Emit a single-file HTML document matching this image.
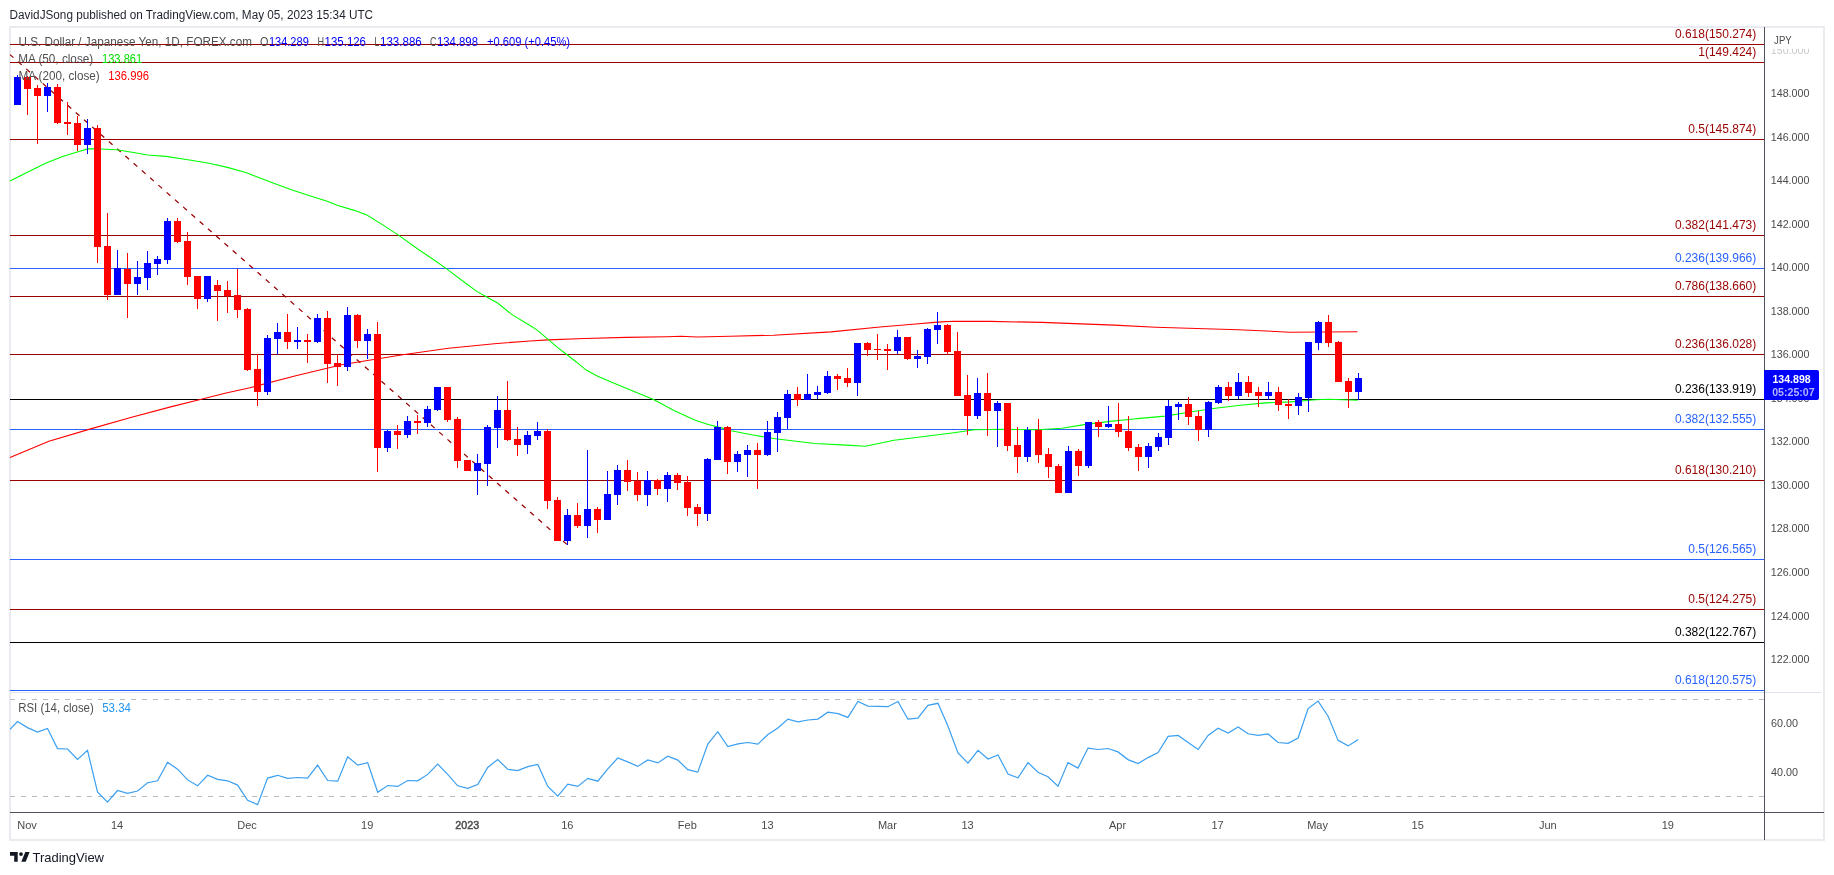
<!DOCTYPE html>
<html><head><meta charset="utf-8"><title>USDJPY chart</title>
<style>
html,body{margin:0;padding:0;background:#fff;width:1834px;height:875px;overflow:hidden}
svg{display:block;will-change:transform}
text{font-family:"Liberation Sans", sans-serif}
</style></head><body>
<svg width="1834" height="875" viewBox="0 0 1834 875">
<rect x="0" y="0" width="1834" height="875" fill="#ffffff"/>
<text x="9.6" y="19" font-size="12.5" fill="#1e222d" textLength="363.5" lengthAdjust="spacingAndGlyphs">DavidJSong published on TradingView.com, May 05, 2023 15:34 UTC</text>
<rect x="10" y="27" width="1814" height="813" fill="none" stroke="#e9ebf0" stroke-width="2"/>
<g shape-rendering="crispEdges">
<rect x="10" y="44" width="1754" height="1" fill="#990000"/>
<rect x="10" y="62" width="1754" height="1" fill="#990000"/>
<rect x="10" y="139" width="1754" height="1" fill="#990000"/>
<rect x="10" y="235" width="1754" height="1" fill="#990000"/>
<rect x="10" y="268" width="1754" height="1" fill="#2962ff"/>
<rect x="10" y="296" width="1754" height="1" fill="#990000"/>
<rect x="10" y="354" width="1754" height="1" fill="#990000"/>
<rect x="10" y="399" width="1754" height="1" fill="#000000"/>
<rect x="10" y="429" width="1754" height="1" fill="#2962ff"/>
<rect x="10" y="480" width="1754" height="1" fill="#990000"/>
<rect x="10" y="559" width="1754" height="1" fill="#2962ff"/>
<rect x="10" y="609" width="1754" height="1" fill="#990000"/>
<rect x="10" y="642" width="1754" height="1" fill="#000000"/>
<rect x="10" y="690" width="1754" height="1" fill="#2962ff"/>
</g>
<g font-size="12" text-anchor="end">
<text x="1756.3" y="37.7" fill="#990000">0.618(150.274)</text>
<text x="1756.3" y="55.7" fill="#990000">1(149.424)</text>
<text x="1756.3" y="132.7" fill="#990000">0.5(145.874)</text>
<text x="1756.3" y="228.7" fill="#990000">0.382(141.473)</text>
<text x="1756.3" y="261.7" fill="#2962ff">0.236(139.966)</text>
<text x="1756.3" y="289.7" fill="#990000">0.786(138.660)</text>
<text x="1756.3" y="347.7" fill="#990000">0.236(136.028)</text>
<text x="1756.3" y="392.7" fill="#000000">0.236(133.919)</text>
<text x="1756.3" y="422.7" fill="#2962ff">0.382(132.555)</text>
<text x="1756.3" y="473.7" fill="#990000">0.618(130.210)</text>
<text x="1756.3" y="552.7" fill="#2962ff">0.5(126.565)</text>
<text x="1756.3" y="602.7" fill="#990000">0.5(124.275)</text>
<text x="1756.3" y="635.7" fill="#000000">0.382(122.767)</text>
<text x="1756.3" y="683.7" fill="#2962ff">0.618(120.575)</text>
</g>
<line x1="10" y1="54.6" x2="567" y2="544.5" stroke="#990000" stroke-width="1.25" stroke-dasharray="5 6" stroke-dashoffset="0.4"/>
<polyline points="10.0,457.4 48.9,441.3 89.8,429.1 130.7,417.5 171.6,406.6 200.2,399.5 226.1,393.0 250.0,387.7 295.8,375.8 341.6,364.8 372.1,359.8 402.7,354.7 448.5,348.3 494.3,343.7 530.0,341.0 547.8,339.9 584.9,338.5 626.0,337.4 667.2,336.7 680.9,336.2 697.4,337.0 730.0,336.2 773.6,335.2 831.0,331.9 880.0,327.0 912.8,324.2 937.3,322.1 953.7,321.3 990.0,321.4 1041.8,322.4 1114.2,325.1 1155.6,327.2 1238.4,329.7 1290.2,332.2 1357.5,331.7" fill="none" stroke="#ff0000" stroke-width="1.1"/>
<polyline points="10.0,180.9 29.8,171.1 46.2,162.9 62.5,156.4 78.9,151.5 87.6,148.9 94.2,148.7 117.0,149.8 133.4,152.5 147.6,155.0 166.1,156.4 187.9,159.8 200.0,161.7 209.1,163.3 227.4,167.4 245.7,172.4 254.8,176.1 273.1,182.9 291.4,189.8 309.7,195.7 328.0,201.6 337.1,205.3 355.0,210.6 366.9,215.1 384.7,226.1 398.8,235.4 417.4,248.8 435.2,260.7 446.3,268.6 466.4,283.7 476.8,291.4 485.4,296.3 497.6,303.0 512.4,314.9 530.0,325.5 536.9,329.9 547.8,339.2 557.4,347.4 566.4,354.3 576.6,362.2 586.2,370.1 597.2,376.0 612.3,382.4 632.9,391.1 653.5,399.6 674.0,410.5 694.6,420.1 708.3,424.5 723.4,428.4 731.1,430.8 751.6,434.8 775.4,438.7 815.0,443.5 846.6,445.1 865.6,446.2 894.0,440.3 930.0,435.8 954.0,432.8 974.4,429.8 1002.0,429.2 1037.9,429.8 1061.9,428.3 1085.9,424.4 1109.9,421.4 1133.8,419.0 1140.0,418.4 1165.1,416.1 1190.2,412.0 1215.3,408.2 1240.4,405.3 1265.5,402.9 1290.6,401.9 1315.7,399.8 1328.2,399.3 1357.7,400.3" fill="none" stroke="#00ff00" stroke-width="1.1"/>
<g shape-rendering="crispEdges">
<rect x="17" y="75" width="1" height="30" fill="#0000ff"/>
<rect x="14" y="77" width="7" height="28" fill="#0000ff"/>
<rect x="27" y="76" width="1" height="39" fill="#ff0000"/>
<rect x="24" y="77" width="7" height="12" fill="#ff0000"/>
<rect x="37" y="85" width="1" height="59" fill="#ff0000"/>
<rect x="34" y="88" width="7" height="8" fill="#ff0000"/>
<rect x="47" y="83" width="1" height="29" fill="#0000ff"/>
<rect x="44" y="87" width="7" height="9" fill="#0000ff"/>
<rect x="57" y="84" width="1" height="40" fill="#ff0000"/>
<rect x="54" y="87" width="7" height="36" fill="#ff0000"/>
<rect x="67" y="102" width="1" height="33" fill="#ff0000"/>
<rect x="64" y="122" width="7" height="2" fill="#ff0000"/>
<rect x="77" y="116" width="1" height="35" fill="#ff0000"/>
<rect x="74" y="123" width="7" height="22" fill="#ff0000"/>
<rect x="87" y="119" width="1" height="35" fill="#0000ff"/>
<rect x="84" y="128" width="7" height="17" fill="#0000ff"/>
<rect x="97" y="125" width="1" height="138" fill="#ff0000"/>
<rect x="94" y="128" width="7" height="119" fill="#ff0000"/>
<rect x="107" y="213" width="1" height="87" fill="#ff0000"/>
<rect x="104" y="246" width="7" height="49" fill="#ff0000"/>
<rect x="117" y="250" width="1" height="45" fill="#0000ff"/>
<rect x="114" y="268" width="7" height="27" fill="#0000ff"/>
<rect x="127" y="253" width="1" height="65" fill="#ff0000"/>
<rect x="124" y="269" width="7" height="15" fill="#ff0000"/>
<rect x="137" y="261" width="1" height="34" fill="#0000ff"/>
<rect x="134" y="277" width="7" height="7" fill="#0000ff"/>
<rect x="147" y="251" width="1" height="39" fill="#0000ff"/>
<rect x="144" y="263" width="7" height="15" fill="#0000ff"/>
<rect x="157" y="256" width="1" height="19" fill="#0000ff"/>
<rect x="154" y="259" width="7" height="5" fill="#0000ff"/>
<rect x="167" y="218" width="1" height="46" fill="#0000ff"/>
<rect x="164" y="221" width="7" height="39" fill="#0000ff"/>
<rect x="177" y="218" width="1" height="25" fill="#ff0000"/>
<rect x="174" y="221" width="7" height="21" fill="#ff0000"/>
<rect x="187" y="232" width="1" height="53" fill="#ff0000"/>
<rect x="184" y="241" width="7" height="36" fill="#ff0000"/>
<rect x="197" y="276" width="1" height="33" fill="#ff0000"/>
<rect x="194" y="276" width="7" height="23" fill="#ff0000"/>
<rect x="207" y="276" width="1" height="26" fill="#0000ff"/>
<rect x="204" y="276" width="7" height="23" fill="#0000ff"/>
<rect x="217" y="280" width="1" height="41" fill="#ff0000"/>
<rect x="214" y="285" width="7" height="6" fill="#ff0000"/>
<rect x="227" y="281" width="1" height="32" fill="#ff0000"/>
<rect x="224" y="290" width="7" height="6" fill="#ff0000"/>
<rect x="237" y="269" width="1" height="49" fill="#ff0000"/>
<rect x="234" y="295" width="7" height="15" fill="#ff0000"/>
<rect x="247" y="308" width="1" height="63" fill="#ff0000"/>
<rect x="244" y="309" width="7" height="61" fill="#ff0000"/>
<rect x="257" y="354" width="1" height="52" fill="#ff0000"/>
<rect x="254" y="369" width="7" height="23" fill="#ff0000"/>
<rect x="267" y="335" width="1" height="60" fill="#0000ff"/>
<rect x="264" y="338" width="7" height="54" fill="#0000ff"/>
<rect x="277" y="323" width="1" height="32" fill="#0000ff"/>
<rect x="274" y="332" width="7" height="7" fill="#0000ff"/>
<rect x="287" y="314" width="1" height="35" fill="#ff0000"/>
<rect x="284" y="332" width="7" height="10" fill="#ff0000"/>
<rect x="297" y="327" width="1" height="22" fill="#0000ff"/>
<rect x="294" y="340" width="7" height="2" fill="#0000ff"/>
<rect x="307" y="334" width="1" height="29" fill="#ff0000"/>
<rect x="304" y="340" width="7" height="2" fill="#ff0000"/>
<rect x="317" y="314" width="1" height="29" fill="#0000ff"/>
<rect x="314" y="318" width="7" height="24" fill="#0000ff"/>
<rect x="327" y="311" width="1" height="72" fill="#ff0000"/>
<rect x="324" y="318" width="7" height="46" fill="#ff0000"/>
<rect x="337" y="355" width="1" height="31" fill="#ff0000"/>
<rect x="334" y="363" width="7" height="4" fill="#ff0000"/>
<rect x="347" y="307" width="1" height="64" fill="#0000ff"/>
<rect x="344" y="315" width="7" height="52" fill="#0000ff"/>
<rect x="357" y="314" width="1" height="34" fill="#ff0000"/>
<rect x="354" y="315" width="7" height="26" fill="#ff0000"/>
<rect x="367" y="329" width="1" height="30" fill="#0000ff"/>
<rect x="364" y="334" width="7" height="7" fill="#0000ff"/>
<rect x="377" y="322" width="1" height="150" fill="#ff0000"/>
<rect x="374" y="334" width="7" height="114" fill="#ff0000"/>
<rect x="387" y="430" width="1" height="22" fill="#0000ff"/>
<rect x="384" y="431" width="7" height="17" fill="#0000ff"/>
<rect x="397" y="425" width="1" height="24" fill="#ff0000"/>
<rect x="394" y="431" width="7" height="4" fill="#ff0000"/>
<rect x="407" y="416" width="1" height="22" fill="#0000ff"/>
<rect x="404" y="421" width="7" height="14" fill="#0000ff"/>
<rect x="417" y="415" width="1" height="19" fill="#ff0000"/>
<rect x="414" y="421" width="7" height="2" fill="#ff0000"/>
<rect x="427" y="406" width="1" height="21" fill="#0000ff"/>
<rect x="424" y="409" width="7" height="14" fill="#0000ff"/>
<rect x="437" y="387" width="1" height="24" fill="#0000ff"/>
<rect x="434" y="387" width="7" height="23" fill="#0000ff"/>
<rect x="447" y="387" width="1" height="35" fill="#ff0000"/>
<rect x="444" y="387" width="7" height="33" fill="#ff0000"/>
<rect x="457" y="417" width="1" height="51" fill="#ff0000"/>
<rect x="454" y="419" width="7" height="42" fill="#ff0000"/>
<rect x="467" y="460" width="1" height="11" fill="#ff0000"/>
<rect x="464" y="460" width="7" height="11" fill="#ff0000"/>
<rect x="477" y="454" width="1" height="41" fill="#0000ff"/>
<rect x="474" y="463" width="7" height="8" fill="#0000ff"/>
<rect x="487" y="425" width="1" height="61" fill="#0000ff"/>
<rect x="484" y="427" width="7" height="37" fill="#0000ff"/>
<rect x="497" y="396" width="1" height="52" fill="#0000ff"/>
<rect x="494" y="410" width="7" height="18" fill="#0000ff"/>
<rect x="507" y="381" width="1" height="60" fill="#ff0000"/>
<rect x="504" y="410" width="7" height="30" fill="#ff0000"/>
<rect x="517" y="427" width="1" height="29" fill="#ff0000"/>
<rect x="514" y="439" width="7" height="6" fill="#ff0000"/>
<rect x="527" y="431" width="1" height="23" fill="#0000ff"/>
<rect x="524" y="435" width="7" height="10" fill="#0000ff"/>
<rect x="537" y="422" width="1" height="18" fill="#0000ff"/>
<rect x="534" y="431" width="7" height="5" fill="#0000ff"/>
<rect x="547" y="429" width="1" height="80" fill="#ff0000"/>
<rect x="544" y="431" width="7" height="70" fill="#ff0000"/>
<rect x="557" y="497" width="1" height="44" fill="#ff0000"/>
<rect x="554" y="500" width="7" height="41" fill="#ff0000"/>
<rect x="567" y="509" width="1" height="36" fill="#0000ff"/>
<rect x="564" y="515" width="7" height="26" fill="#0000ff"/>
<rect x="577" y="503" width="1" height="25" fill="#ff0000"/>
<rect x="574" y="515" width="7" height="11" fill="#ff0000"/>
<rect x="587" y="450" width="1" height="88" fill="#0000ff"/>
<rect x="584" y="509" width="7" height="17" fill="#0000ff"/>
<rect x="597" y="507" width="1" height="26" fill="#ff0000"/>
<rect x="594" y="509" width="7" height="11" fill="#ff0000"/>
<rect x="607" y="471" width="1" height="49" fill="#0000ff"/>
<rect x="604" y="494" width="7" height="26" fill="#0000ff"/>
<rect x="617" y="465" width="1" height="40" fill="#0000ff"/>
<rect x="614" y="470" width="7" height="25" fill="#0000ff"/>
<rect x="627" y="460" width="1" height="31" fill="#ff0000"/>
<rect x="624" y="470" width="7" height="12" fill="#ff0000"/>
<rect x="637" y="472" width="1" height="29" fill="#ff0000"/>
<rect x="634" y="481" width="7" height="14" fill="#ff0000"/>
<rect x="647" y="471" width="1" height="35" fill="#0000ff"/>
<rect x="644" y="480" width="7" height="15" fill="#0000ff"/>
<rect x="657" y="479" width="1" height="16" fill="#ff0000"/>
<rect x="654" y="480" width="7" height="9" fill="#ff0000"/>
<rect x="667" y="472" width="1" height="30" fill="#0000ff"/>
<rect x="664" y="475" width="7" height="14" fill="#0000ff"/>
<rect x="677" y="473" width="1" height="17" fill="#ff0000"/>
<rect x="674" y="475" width="7" height="8" fill="#ff0000"/>
<rect x="687" y="476" width="1" height="40" fill="#ff0000"/>
<rect x="684" y="482" width="7" height="26" fill="#ff0000"/>
<rect x="697" y="504" width="1" height="22" fill="#ff0000"/>
<rect x="694" y="507" width="7" height="7" fill="#ff0000"/>
<rect x="707" y="458" width="1" height="63" fill="#0000ff"/>
<rect x="704" y="459" width="7" height="55" fill="#0000ff"/>
<rect x="717" y="421" width="1" height="39" fill="#0000ff"/>
<rect x="714" y="427" width="7" height="33" fill="#0000ff"/>
<rect x="727" y="426" width="1" height="48" fill="#ff0000"/>
<rect x="724" y="427" width="7" height="35" fill="#ff0000"/>
<rect x="737" y="451" width="1" height="21" fill="#0000ff"/>
<rect x="734" y="454" width="7" height="8" fill="#0000ff"/>
<rect x="747" y="445" width="1" height="32" fill="#0000ff"/>
<rect x="744" y="450" width="7" height="5" fill="#0000ff"/>
<rect x="757" y="443" width="1" height="46" fill="#ff0000"/>
<rect x="754" y="450" width="7" height="5" fill="#ff0000"/>
<rect x="767" y="421" width="1" height="35" fill="#0000ff"/>
<rect x="764" y="432" width="7" height="23" fill="#0000ff"/>
<rect x="777" y="412" width="1" height="40" fill="#0000ff"/>
<rect x="774" y="417" width="7" height="16" fill="#0000ff"/>
<rect x="787" y="390" width="1" height="39" fill="#0000ff"/>
<rect x="784" y="394" width="7" height="24" fill="#0000ff"/>
<rect x="797" y="387" width="1" height="19" fill="#ff0000"/>
<rect x="794" y="394" width="7" height="6" fill="#ff0000"/>
<rect x="807" y="374" width="1" height="26" fill="#0000ff"/>
<rect x="804" y="394" width="7" height="6" fill="#0000ff"/>
<rect x="817" y="386" width="1" height="13" fill="#0000ff"/>
<rect x="814" y="392" width="7" height="3" fill="#0000ff"/>
<rect x="827" y="371" width="1" height="23" fill="#0000ff"/>
<rect x="824" y="376" width="7" height="17" fill="#0000ff"/>
<rect x="837" y="374" width="1" height="16" fill="#ff0000"/>
<rect x="834" y="376" width="7" height="3" fill="#ff0000"/>
<rect x="847" y="368" width="1" height="19" fill="#ff0000"/>
<rect x="844" y="378" width="7" height="5" fill="#ff0000"/>
<rect x="857" y="343" width="1" height="53" fill="#0000ff"/>
<rect x="854" y="343" width="7" height="40" fill="#0000ff"/>
<rect x="867" y="342" width="1" height="14" fill="#ff0000"/>
<rect x="864" y="343" width="7" height="7" fill="#ff0000"/>
<rect x="877" y="334" width="1" height="26" fill="#ff0000"/>
<rect x="874" y="349" width="7" height="1" fill="#ff0000"/>
<rect x="887" y="344" width="1" height="26" fill="#ff0000"/>
<rect x="884" y="349" width="7" height="2" fill="#ff0000"/>
<rect x="897" y="330" width="1" height="24" fill="#0000ff"/>
<rect x="894" y="337" width="7" height="14" fill="#0000ff"/>
<rect x="907" y="337" width="1" height="23" fill="#ff0000"/>
<rect x="904" y="337" width="7" height="22" fill="#ff0000"/>
<rect x="917" y="350" width="1" height="18" fill="#0000ff"/>
<rect x="914" y="356" width="7" height="3" fill="#0000ff"/>
<rect x="927" y="328" width="1" height="36" fill="#0000ff"/>
<rect x="924" y="329" width="7" height="28" fill="#0000ff"/>
<rect x="937" y="312" width="1" height="32" fill="#0000ff"/>
<rect x="934" y="325" width="7" height="5" fill="#0000ff"/>
<rect x="947" y="324" width="1" height="30" fill="#ff0000"/>
<rect x="944" y="325" width="7" height="27" fill="#ff0000"/>
<rect x="957" y="332" width="1" height="64" fill="#ff0000"/>
<rect x="954" y="351" width="7" height="45" fill="#ff0000"/>
<rect x="967" y="375" width="1" height="60" fill="#ff0000"/>
<rect x="964" y="395" width="7" height="21" fill="#ff0000"/>
<rect x="977" y="378" width="1" height="41" fill="#0000ff"/>
<rect x="974" y="393" width="7" height="23" fill="#0000ff"/>
<rect x="987" y="373" width="1" height="63" fill="#ff0000"/>
<rect x="984" y="393" width="7" height="18" fill="#ff0000"/>
<rect x="997" y="401" width="1" height="46" fill="#0000ff"/>
<rect x="994" y="403" width="7" height="8" fill="#0000ff"/>
<rect x="1007" y="403" width="1" height="48" fill="#ff0000"/>
<rect x="1004" y="403" width="7" height="43" fill="#ff0000"/>
<rect x="1017" y="427" width="1" height="46" fill="#ff0000"/>
<rect x="1014" y="445" width="7" height="12" fill="#ff0000"/>
<rect x="1027" y="427" width="1" height="35" fill="#0000ff"/>
<rect x="1024" y="430" width="7" height="27" fill="#0000ff"/>
<rect x="1038" y="419" width="1" height="44" fill="#ff0000"/>
<rect x="1035" y="430" width="7" height="25" fill="#ff0000"/>
<rect x="1048" y="448" width="1" height="30" fill="#ff0000"/>
<rect x="1045" y="454" width="7" height="13" fill="#ff0000"/>
<rect x="1058" y="464" width="1" height="29" fill="#ff0000"/>
<rect x="1055" y="466" width="7" height="27" fill="#ff0000"/>
<rect x="1068" y="446" width="1" height="47" fill="#0000ff"/>
<rect x="1065" y="451" width="7" height="42" fill="#0000ff"/>
<rect x="1078" y="449" width="1" height="27" fill="#ff0000"/>
<rect x="1075" y="451" width="7" height="15" fill="#ff0000"/>
<rect x="1088" y="422" width="1" height="46" fill="#0000ff"/>
<rect x="1085" y="422" width="7" height="44" fill="#0000ff"/>
<rect x="1098" y="420" width="1" height="17" fill="#ff0000"/>
<rect x="1095" y="422" width="7" height="5" fill="#ff0000"/>
<rect x="1108" y="406" width="1" height="22" fill="#0000ff"/>
<rect x="1105" y="424" width="7" height="3" fill="#0000ff"/>
<rect x="1118" y="403" width="1" height="34" fill="#ff0000"/>
<rect x="1115" y="424" width="7" height="8" fill="#ff0000"/>
<rect x="1128" y="416" width="1" height="35" fill="#ff0000"/>
<rect x="1125" y="431" width="7" height="17" fill="#ff0000"/>
<rect x="1138" y="444" width="1" height="27" fill="#ff0000"/>
<rect x="1135" y="447" width="7" height="10" fill="#ff0000"/>
<rect x="1148" y="443" width="1" height="25" fill="#0000ff"/>
<rect x="1145" y="446" width="7" height="11" fill="#0000ff"/>
<rect x="1158" y="433" width="1" height="18" fill="#0000ff"/>
<rect x="1155" y="437" width="7" height="10" fill="#0000ff"/>
<rect x="1168" y="400" width="1" height="45" fill="#0000ff"/>
<rect x="1165" y="406" width="7" height="32" fill="#0000ff"/>
<rect x="1178" y="402" width="1" height="18" fill="#0000ff"/>
<rect x="1175" y="404" width="7" height="3" fill="#0000ff"/>
<rect x="1188" y="397" width="1" height="28" fill="#ff0000"/>
<rect x="1185" y="404" width="7" height="13" fill="#ff0000"/>
<rect x="1198" y="411" width="1" height="30" fill="#ff0000"/>
<rect x="1195" y="416" width="7" height="14" fill="#ff0000"/>
<rect x="1208" y="401" width="1" height="36" fill="#0000ff"/>
<rect x="1205" y="402" width="7" height="28" fill="#0000ff"/>
<rect x="1218" y="385" width="1" height="19" fill="#0000ff"/>
<rect x="1215" y="387" width="7" height="16" fill="#0000ff"/>
<rect x="1228" y="382" width="1" height="19" fill="#ff0000"/>
<rect x="1225" y="387" width="7" height="9" fill="#ff0000"/>
<rect x="1238" y="373" width="1" height="26" fill="#0000ff"/>
<rect x="1235" y="382" width="7" height="14" fill="#0000ff"/>
<rect x="1248" y="376" width="1" height="21" fill="#ff0000"/>
<rect x="1245" y="382" width="7" height="11" fill="#ff0000"/>
<rect x="1258" y="387" width="1" height="20" fill="#ff0000"/>
<rect x="1255" y="392" width="7" height="4" fill="#ff0000"/>
<rect x="1268" y="382" width="1" height="18" fill="#0000ff"/>
<rect x="1265" y="392" width="7" height="4" fill="#0000ff"/>
<rect x="1278" y="387" width="1" height="24" fill="#ff0000"/>
<rect x="1275" y="392" width="7" height="13" fill="#ff0000"/>
<rect x="1288" y="399" width="1" height="20" fill="#ff0000"/>
<rect x="1285" y="404" width="7" height="2" fill="#ff0000"/>
<rect x="1298" y="393" width="1" height="22" fill="#0000ff"/>
<rect x="1295" y="397" width="7" height="9" fill="#0000ff"/>
<rect x="1308" y="342" width="1" height="70" fill="#0000ff"/>
<rect x="1305" y="342" width="7" height="56" fill="#0000ff"/>
<rect x="1318" y="321" width="1" height="29" fill="#0000ff"/>
<rect x="1315" y="322" width="7" height="21" fill="#0000ff"/>
<rect x="1328" y="315" width="1" height="32" fill="#ff0000"/>
<rect x="1325" y="322" width="7" height="21" fill="#ff0000"/>
<rect x="1338" y="341" width="1" height="41" fill="#ff0000"/>
<rect x="1335" y="342" width="7" height="40" fill="#ff0000"/>
<rect x="1348" y="378" width="1" height="30" fill="#ff0000"/>
<rect x="1345" y="381" width="7" height="11" fill="#ff0000"/>
<rect x="1358" y="373" width="1" height="27" fill="#0000ff"/>
<rect x="1355" y="378" width="7" height="14" fill="#0000ff"/>
</g>
<g font-size="12" fill="#4f4f4f">
<text x="18.5" y="45.5" textLength="233.4" lengthAdjust="spacingAndGlyphs">U.S. Dollar / Japanese Yen, 1D, FOREX.com</text>
<text x="259.9" y="45.5" textLength="8.4" lengthAdjust="spacingAndGlyphs">O</text>
<text x="268.9" y="45.5" fill="#0000ff" textLength="39.9" lengthAdjust="spacingAndGlyphs">134.289</text>
<text x="317.4" y="45.5" textLength="6.6" lengthAdjust="spacingAndGlyphs">H</text>
<text x="324.6" y="45.5" fill="#0000ff" textLength="41.4" lengthAdjust="spacingAndGlyphs">135.126</text>
<text x="374.6" y="45.5" textLength="4.8" lengthAdjust="spacingAndGlyphs">L</text>
<text x="380" y="45.5" fill="#0000ff" textLength="41.8" lengthAdjust="spacingAndGlyphs">133.886</text>
<text x="429.9" y="45.5" textLength="6.5" lengthAdjust="spacingAndGlyphs">C</text>
<text x="437" y="45.5" fill="#0000ff" textLength="41.0" lengthAdjust="spacingAndGlyphs">134.898</text>
<text x="487" y="45.5" fill="#0000ff" textLength="83" lengthAdjust="spacingAndGlyphs">+0.609 (+0.45%)</text>
<text x="18.2" y="63" textLength="75" lengthAdjust="spacingAndGlyphs">MA (50, close)</text>
<text x="102" y="63" fill="#00e000" textLength="40.2" lengthAdjust="spacingAndGlyphs">133.861</text>
<text x="18.4" y="80" textLength="81.3" lengthAdjust="spacingAndGlyphs">MA (200, close)</text>
<text x="108.2" y="80" fill="#ff0000" textLength="40.9" lengthAdjust="spacingAndGlyphs">136.996</text>
<text x="18.2" y="712.2" textLength="75.6" lengthAdjust="spacingAndGlyphs">RSI (14, close)</text>
<text x="102.2" y="712.2" fill="#2196f3" textLength="28.7" lengthAdjust="spacingAndGlyphs">53.34</text>
</g>
<rect x="10" y="692" width="1812" height="1" fill="#e0e3eb" shape-rendering="crispEdges"/>
<line x1="10" y1="699.5" x2="1764" y2="699.5" stroke="#bbbbbb" stroke-width="1" stroke-dasharray="5 6" shape-rendering="crispEdges"/>
<line x1="10" y1="796.5" x2="1764" y2="796.5" stroke="#bbbbbb" stroke-width="1" stroke-dasharray="5 6" shape-rendering="crispEdges"/>
<polyline points="10.0,729.3 17.5,721.5 27.5,727.6 37.5,732.1 47.5,728.4 57.5,748.6 67.5,749.0 77.5,759.5 87.5,750.3 97.5,792.0 107.5,802.2 117.5,790.5 127.6,793.4 137.6,791.0 147.6,782.7 157.6,780.8 167.6,762.3 177.6,769.2 187.6,779.9 197.6,785.8 207.6,775.3 217.6,779.4 227.6,780.8 237.6,785.1 247.6,800.3 257.6,804.6 267.6,778.1 277.6,775.3 287.6,778.4 297.6,777.5 307.6,778.1 317.6,765.1 327.7,780.5 337.7,781.2 347.7,756.7 357.7,765.1 367.7,762.7 377.7,792.3 387.7,785.5 397.7,786.4 407.7,780.5 417.7,780.8 427.7,774.4 437.7,764.2 447.7,774.4 457.7,785.8 467.7,788.3 477.7,784.5 487.7,767.5 497.7,759.5 507.7,769.3 517.7,770.6 527.8,766.6 537.8,764.5 547.8,786.4 557.8,796.2 567.8,784.2 577.8,786.4 587.8,778.4 597.8,781.2 607.8,768.8 617.8,758.0 627.8,761.9 637.8,766.4 647.8,759.9 657.8,762.9 667.8,756.2 677.8,760.1 687.8,769.7 697.8,772.1 707.8,744.1 717.8,731.7 727.8,746.5 737.9,743.8 747.9,742.5 757.9,744.1 767.9,734.5 777.9,728.0 787.9,719.1 797.9,721.9 807.9,720.0 817.9,719.1 827.9,712.2 837.9,713.7 847.9,717.4 857.9,701.5 867.9,706.1 877.9,706.3 887.9,706.7 897.9,701.5 907.9,719.1 917.9,718.2 927.9,705.4 938.0,703.3 948.0,726.2 958.0,753.0 968.0,763.2 978.0,750.3 988.0,759.0 998.0,754.9 1008.0,774.0 1018.0,777.8 1028.0,762.6 1038.0,772.3 1048.0,776.7 1058.0,786.2 1068.0,762.6 1078.0,768.1 1088.0,748.1 1098.0,749.5 1108.0,748.5 1118.0,751.9 1128.0,759.6 1138.1,763.6 1148.1,757.6 1158.1,752.5 1168.1,736.4 1178.1,735.4 1188.1,742.5 1198.1,749.5 1208.1,735.4 1218.1,728.3 1228.1,733.0 1238.1,726.9 1248.1,733.8 1258.1,735.4 1268.1,734.0 1278.1,742.5 1288.1,743.3 1298.1,738.0 1308.1,708.6 1318.1,701.1 1328.1,716.2 1338.1,740.4 1348.2,745.9 1358.2,739.4" fill="none" stroke="#3a9ff0" stroke-width="1.2"/>
<rect x="1764" y="27" width="1" height="813" fill="#50535e" shape-rendering="crispEdges"/>
<rect x="10" y="812" width="1814" height="1" fill="#50535e" shape-rendering="crispEdges"/>
<g font-size="11" fill="#4a4a4a">
<text x="1770.8" y="97.0" textLength="38.6" lengthAdjust="spacingAndGlyphs">148.000</text>
<text x="1770.8" y="140.5" textLength="38.6" lengthAdjust="spacingAndGlyphs">146.000</text>
<text x="1770.8" y="184.1" textLength="38.6" lengthAdjust="spacingAndGlyphs">144.000</text>
<text x="1770.8" y="227.6" textLength="38.6" lengthAdjust="spacingAndGlyphs">142.000</text>
<text x="1770.8" y="271.2" textLength="38.6" lengthAdjust="spacingAndGlyphs">140.000</text>
<text x="1770.8" y="314.7" textLength="38.6" lengthAdjust="spacingAndGlyphs">138.000</text>
<text x="1770.8" y="358.2" textLength="38.6" lengthAdjust="spacingAndGlyphs">136.000</text>
<text x="1770.8" y="445.3" textLength="38.6" lengthAdjust="spacingAndGlyphs">132.000</text>
<text x="1770.8" y="488.9" textLength="38.6" lengthAdjust="spacingAndGlyphs">130.000</text>
<text x="1770.8" y="532.4" textLength="38.6" lengthAdjust="spacingAndGlyphs">128.000</text>
<text x="1770.8" y="575.9" textLength="38.6" lengthAdjust="spacingAndGlyphs">126.000</text>
<text x="1770.8" y="619.5" textLength="38.6" lengthAdjust="spacingAndGlyphs">124.000</text>
<text x="1770.8" y="663.0" textLength="38.6" lengthAdjust="spacingAndGlyphs">122.000</text>
<text x="1770.8" y="401.8" textLength="38.6" lengthAdjust="spacingAndGlyphs">134.000</text>
<text x="1770.8" y="53.5" textLength="38.6" lengthAdjust="spacingAndGlyphs" fill-opacity="0.3">150.000</text>
<rect x="1766" y="28" width="56" height="20.8" fill="#ffffff"/>
<text x="1774.1" y="43.9" font-size="11.5" textLength="17.6" lengthAdjust="spacingAndGlyphs">JPY</text>
<text x="1770.9" y="727.0" textLength="27" lengthAdjust="spacingAndGlyphs">60.00</text>
<text x="1770.9" y="776.1" textLength="27" lengthAdjust="spacingAndGlyphs">40.00</text>
</g>
<path d="M1764,370 H1817 Q1819,370 1819,372 V398 Q1819,400 1817,400 H1764 Z" fill="#0000ff"/>
<text x="1772.4" y="382.9" font-size="11" font-weight="bold" fill="#ffffff" textLength="38.3" lengthAdjust="spacingAndGlyphs">134.898</text>
<text x="1772.2" y="396" font-size="11" font-weight="bold" fill="#b3b3ff" textLength="42.5" lengthAdjust="spacingAndGlyphs">05:25:07</text>
<g font-size="11" fill="#4a4a4a" text-anchor="middle">
<text x="27.0" y="829.2">Nov</text>
<text x="117.0" y="829.2">14</text>
<text x="247.1" y="829.2">Dec</text>
<text x="367.2" y="829.2">19</text>
<text x="467.2" y="829.2" stroke="#4a4a4a" stroke-width="0.45" textLength="24" lengthAdjust="spacingAndGlyphs">2023</text>
<text x="567.3" y="829.2">16</text>
<text x="687.3" y="829.2">Feb</text>
<text x="767.4" y="829.2">13</text>
<text x="887.4" y="829.2">Mar</text>
<text x="967.5" y="829.2">13</text>
<text x="1117.5" y="829.2">Apr</text>
<text x="1217.6" y="829.2">17</text>
<text x="1317.6" y="829.2">May</text>
<text x="1417.7" y="829.2">15</text>
<text x="1547.8" y="829.2">Jun</text>
<text x="1667.8" y="829.2">19</text>
</g>
<g fill="#131722">
<path d="M10,852 H17.7 V861.7 H14.2 V855.7 H10 Z"/>
<circle cx="21" cy="854.1" r="1.9"/>
<path d="M25.3,852 H29.6 L25.7,861.7 H21.3 Z"/>
</g>
<text x="32.5" y="862" font-size="13" fill="#131722" textLength="71.5" lengthAdjust="spacingAndGlyphs">TradingView</text>
</svg></body></html>
